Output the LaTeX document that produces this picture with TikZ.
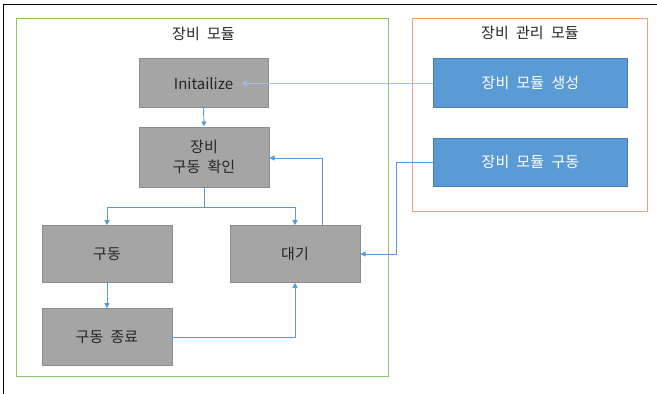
\documentclass[tikz,border=0pt]{standalone}
\usepackage{fontspec}
\setmainfont{Noto Sans CJK KR}[WordSpace=2.2]
\usetikzlibrary{arrows.meta,positioning}
\definecolor{boxgray}{HTML}{A5A5A5}
\definecolor{boxgrayline}{HTML}{8C8C8C}
\definecolor{boxblue}{HTML}{5B9BD5}
\definecolor{boxblueline}{HTML}{4A7EB0}
\definecolor{conn}{HTML}{5B9BD5}
\definecolor{connlight}{HTML}{9DC3E6}
\definecolor{grn}{HTML}{8CC46A}
\definecolor{org}{HTML}{F0A070}
\definecolor{txt}{HTML}{262626}
\begin{document}
\begin{tikzpicture}[x=1pt,y=-1pt,
  graybox/.style={draw=boxgrayline,fill=boxgray,line width=1pt,minimum height=56.6pt,minimum width=130pt,inner sep=0pt,text=txt,align=center,font=\fontsize{15}{20}\selectfont},
  bluebox/.style={draw=boxblueline,fill=boxblue,line width=1pt,minimum width=193.6pt,inner sep=0pt,text=white,font=\fontsize{15}{20}\selectfont},
  arr/.style={draw=conn,line width=0.9pt,-{Triangle[length=5pt,width=5pt]}},
  title/.style={text=txt,font=\fontsize{15}{20}\selectfont,inner sep=0pt}]
\useasboundingbox (0,0) rectangle (657,394);
\fill[white] (0,0) rectangle (657,394);
% outer frame (top and left)
\draw[black,line width=1.3pt] (3.3,394) -- (3.3,4.3) -- (657,4.3);
% module frames
\draw[grn,line width=1pt] (16.5,18.5) rectangle (388.5,376);
\draw[org,line width=1pt] (412.7,18.3) rectangle (647.7,211);
\node[title] (t1) at (203.5,33.5) {장비 모듈};
\node[title] (t2) at (530,33) {장비 관리 모듈};
% nodes
\node[graybox,minimum width=129pt,minimum height=48.7pt] (init) at (203.5,83.3) {Initailize};
\node[graybox,minimum height=60pt] (check) at (204,157) {장비\\구동 확인};
\node[graybox] (drive) at (107,254) {구동};
\node[graybox] (wait) at (295,254) {대기};
\node[graybox] (end) at (107,337) {구동 종료};
\node[bluebox,minimum height=48.7pt] (create) at (530.5,83.3) {장비 모듈 생성};
\node[bluebox,minimum height=48pt] (run) at (530.5,162.2) {장비 모듈 구동};
% connectors
\draw[arr,draw=connlight,line width=1.6pt,-{Triangle[length=5pt,width=5pt,fill=conn]}] (create.west) -- ([xshift=-27pt]init.east);
\draw[arr] (init.south) -- (check.north);
\draw[arr] (check.south) -- ++(0,19.7) -| (drive.north);
\draw[arr] (check.south) -- ++(0,19.7) -| (wait.north);
\draw[arr] (drive.south) -- (end.north);
\draw[arr] (end.east) -| (wait.south);
\draw[arr] ([xshift=27pt]wait.north) |- ([yshift=-1pt]check.east);
\draw[arr] (run.west) -- ++(-37,0) |- (wait.east);
\end{tikzpicture}
\end{document}
